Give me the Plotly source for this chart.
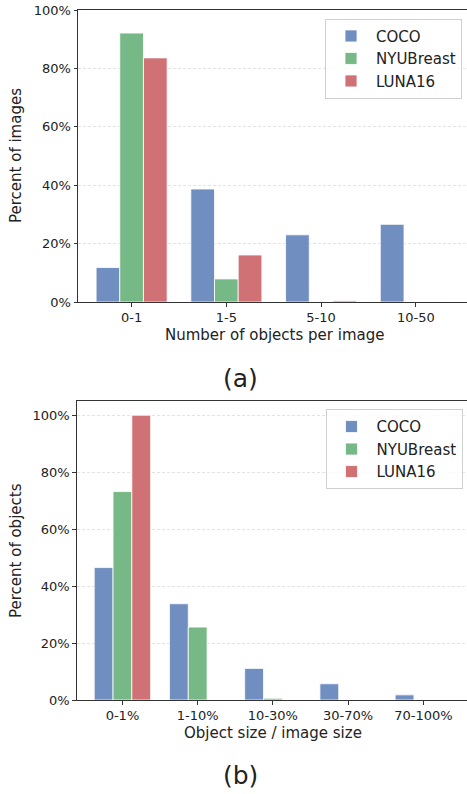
import plotly.graph_objects as go

# ---- data ----
count_bins = ["0-1", "1-5", "5-10", "10-50"]
count_coco = [11.8, 38.7, 23.0, 26.6]
count_nyu = [92.1, 7.9, 0.0, 0.0]
count_luna = [83.6, 16.1, 0.4, 0.0]

size_bins = ["0-1%", "1-10%", "10-30%", "30-70%", "70-100%"]
size_coco = [46.5, 33.8, 11.1, 5.7, 1.8]
size_nyu = [73.2, 25.6, 0.6, 0.0, 0.0]
size_luna = [100.0, 0.0, 0.0, 0.0, 0.0]

series_names = ["COCO", "NYUBreast", "LUNA16"]
colors = ["#708EC0", "#77B986", "#D07175"]

FONT = "DejaVu Sans"
TXT = "#222222"
fig = go.Figure()

for name, vals, c in zip(series_names, [count_coco, count_nyu, count_luna], colors):
    fig.add_trace(go.Bar(
        x=count_bins, y=vals, name=name, marker=dict(color=c, line=dict(color="white", width=0.8)),
        xaxis="x", yaxis="y", legend="legend", offsetgroup=name))

for name, vals, c in zip(series_names, [size_coco, size_nyu, size_luna], colors):
    fig.add_trace(go.Bar(
        x=size_bins, y=vals, name=name, marker=dict(color=c, line=dict(color="white", width=0.8)),
        xaxis="x2", yaxis="y2", legend="legend2", offsetgroup=name))

axis_common = dict(
    showline=True, linecolor="#333333", linewidth=1,
    ticks="outside", ticklen=3.5, tickcolor="#333333",
    tickfont=dict(family=FONT, size=13, color=TXT),
    zeroline=False, automargin=False,
)
grid = dict(showgrid=True, gridcolor="#e3e3e3", griddash="3px,2px", gridwidth=0.8)

W, H = 467, 794
pct_vals = [0, 20, 40, 60, 80, 100]
pct_text = ["0%", "20%", "40%", "60%", "80%", "100%"]


def px(x):
    return x / W


def py(y):
    return 1 - y / H


def label(text, x, y, size=15, angle=0):
    return dict(text=text, x=px(x), y=py(y), xref="paper", yref="paper",
                xanchor="center", yanchor="middle", textangle=angle,
                showarrow=False, font=dict(family=FONT, size=size, color=TXT))


legend_style = dict(bgcolor="rgba(255,255,255,0.8)", bordercolor="#d0d0d0", borderwidth=1,
                    itemwidth=40, font=dict(family=FONT, size=15, color=TXT))

fig.update_layout(
    width=W, height=H,
    margin=dict(l=0, r=0, t=0, b=0, pad=0),
    paper_bgcolor="white", plot_bgcolor="white",
    barmode="group", bargap=0.25, bargroupgap=0,
    font=dict(family=FONT, color=TXT),
    xaxis=dict(domain=[px(78), 1], anchor="y", range=[-0.566, 3.54],
               mirror=True, showgrid=False, **axis_common),
    yaxis=dict(domain=[py(302), py(10)], anchor="x", range=[0, 100],
               tickvals=pct_vals, ticktext=pct_text, **grid, **axis_common),
    xaxis2=dict(domain=[px(76.7), 1], anchor="y2", range=[-0.608, 4.58],
                mirror=True, showgrid=False, **axis_common),
    yaxis2=dict(domain=[py(700), py(401)], anchor="x2", range=[0, 105],
                tickvals=pct_vals, ticktext=pct_text, **grid, **axis_common),
    legend=dict(x=px(462), xanchor="right", y=py(18.7), yanchor="top", **legend_style),
    legend2=dict(x=px(462.5), xanchor="right", y=py(409.3), yanchor="top", **legend_style),
    annotations=[
        label("Number of objects per image", 274, 335),
        label("Percent of images", 16, 156, angle=-90),
        label("Object size / image size", 273, 733),
        label("Percent of objects", 16, 551, angle=-90),
        label("(a)", 240, 379, size=25),
        label("(b)", 240, 775, size=25),
    ],
)

fig.write_html(
    "out.html",
    config={"displayModeBar": False},
    post_script="document.body.style.margin='0';document.body.style.overflow='hidden';",
)
